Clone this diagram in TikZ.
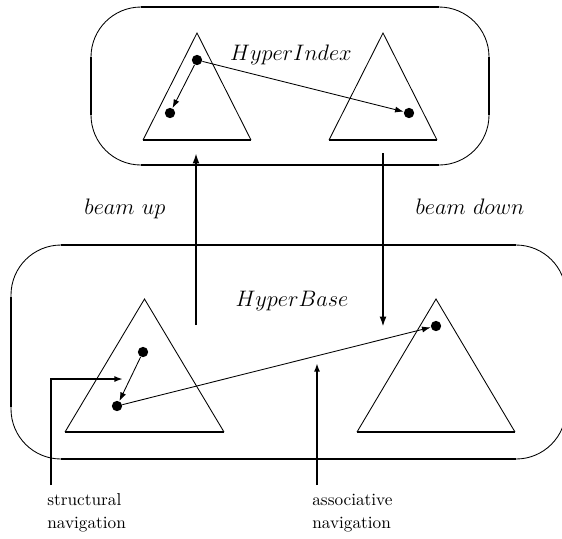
\documentclass[tikz,border=0pt]{standalone}
\usepackage{fix-cm}
\usetikzlibrary{arrows.meta}

\tikzset{
  thinline/.style={line width=0.5pt},
  thickline/.style={line width=1.1pt},
  dot/.style={circle, fill, inner sep=0pt, minimum size=6pt},
  linkarrow/.style={line width=0.5pt, -{Latex[length=5pt,width=3.5pt]}},
  navarrow/.style={line width=1.1pt, -{Latex[length=5pt,width=3.5pt]}},
  beamarrow/.style={line width=1.1pt, -{Latex[length=6pt,width=4pt]}},
  itlabel/.style={font=\fontsize{13}{15}\selectfont, inner sep=0pt, anchor=base},
  navlabel/.style={font=\fontsize{10}{13.3}\selectfont, align=left, inner sep=0pt, anchor=base west}
}

\begin{document}
\begin{tikzpicture}[x=0.58pt, y=-0.58pt]
    \useasboundingbox (0,0) rectangle (562,538);
    \clip (0,0) rectangle (562,538);

    % HyperIndex box
    \draw[thinline, rounded corners=29pt] (91,7) rectangle (489,165);
    \draw[thickline] (141,7) -- (439,7);
    \draw[thickline] (141,165) -- (439,165);
    \draw[thickline] (91,57) -- (91,115);
    \draw[thickline] (489,57) -- (489,115);
    \node[itlabel] (hindex) at (291,60) {$HyperIndex$};

    % HyperIndex trees
    \draw[thinline] (143,140) -- (197,33) -- (251,140);
    \draw[thickline] (143,140) -- (251,140);
    \draw[thinline] (329,140) -- (383,33) -- (437,140);
    \draw[thickline] (329,140) -- (437,140);

    \node[dot] (ia) at (197,60) {};
    \node[dot] (ib) at (170,113) {};
    \node[dot] (ic) at (409,113) {};
    \draw[linkarrow] (ia) -- (ib);
    \draw[linkarrow] (ia) -- (ic);

    % HyperBase box
    \draw[thinline, rounded corners=29pt] (11,245) rectangle (566,459);
    \draw[thickline] (61,245) -- (516,245);
    \draw[thickline] (61,459) -- (516,459);
    \draw[thickline] (11,297) -- (11,407);
    \node[itlabel] (hbase) at (292,306) {$HyperBase$};

    % HyperBase trees
    \draw[thinline] (65,432) -- (144.5,299) -- (224,432);
    \draw[thickline] (65,432) -- (224,432);
    \draw[thinline] (357,432) -- (436,299) -- (515,432);
    \draw[thickline] (357,432) -- (515,432);

    \node[dot] (ba) at (143,352) {};
    \node[dot] (bb) at (117,406) {};
    \node[dot] (bc) at (436,326) {};
    \draw[linkarrow] (ba) -- (bb);
    \draw[linkarrow] (bb) -- (bc);

    % beam up / beam down
    \coordinate (upfoot) at (196,325);
    \coordinate (uptip) at (196,153);
    \coordinate (downtop) at (383,153);
    \coordinate (downtip) at (383,327);
    \draw[beamarrow] (upfoot) -- (uptip);
    \draw[beamarrow, line width=1.5pt] (downtop) -- (downtip);
    \node[itlabel] (bup) at (125,214) {$beam\ up$};
    \node[itlabel] (bdown) at (470,214) {$beam\ down$};

    % navigation
    \coordinate (structfoot) at (51,485);
    \coordinate (structtip) at (123,379);
    \coordinate (assocfoot) at (317,485);
    \coordinate (assoctip) at (317,363);
    \draw[navarrow] (structfoot) |- (structtip);
    \draw[navarrow] (assocfoot) -- (assoctip);
    \node[navlabel] (structlbl) at (47,528) {structural\\navigation};
    \node[navlabel] (assoclbl) at (312,528) {associative\\navigation};
\end{tikzpicture}
\end{document}
